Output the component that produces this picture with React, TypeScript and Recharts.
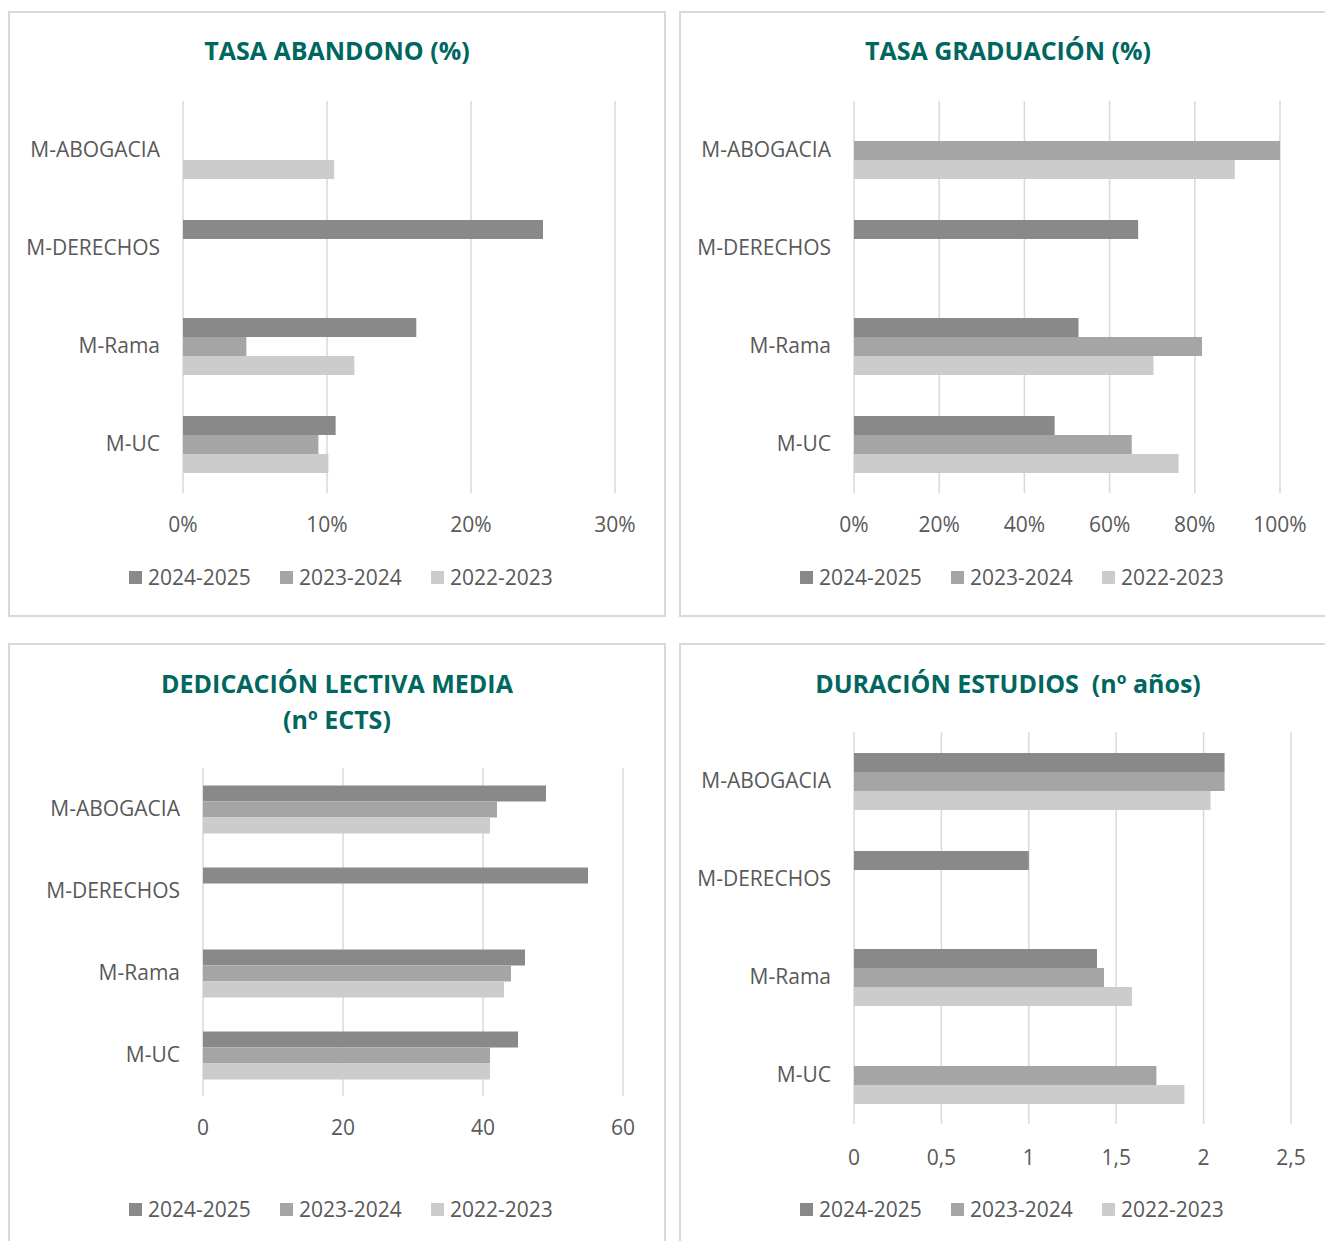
import React from 'react';
import { BarChart, Bar, XAxis, YAxis, CartesianGrid } from 'recharts';

const CATEGORIES = ['M-ABOGACIA', 'M-DERECHOS', 'M-Rama', 'M-UC'];
const SERIES = ['2024-2025', '2023-2024', '2022-2023'];
const COLORS = ['#898989', '#a5a5a5', '#cccccc'];

const ABANDONO_2024_25 = [null, 25.0, 16.2, 10.6];
const ABANDONO_2023_24 = [null, null, 4.4, 9.4];
const ABANDONO_2022_23 = [10.5, null, 11.9, 10.1];
const ABANDONO_TICKS = [0, 10, 20, 30];

const GRADUACION_2024_25 = [null, 66.7, 52.7, 47.1];
const GRADUACION_2023_24 = [100, null, 81.7, 65.2];
const GRADUACION_2022_23 = [89.4, null, 70.3, 76.2];
const GRADUACION_TICKS = [0, 20, 40, 60, 80, 100];

const DEDICACION_2024_25 = [49, 55, 46, 45];
const DEDICACION_2023_24 = [42, null, 44, 41];
const DEDICACION_2022_23 = [41, null, 43, 41];
const DEDICACION_TICKS = [0, 20, 40, 60];

const DURACION_2024_25 = [2.12, 1.0, 1.39, null];
const DURACION_2023_24 = [2.12, null, 1.43, 1.73];
const DURACION_2022_23 = [2.04, null, 1.59, 1.89];
const DURACION_TICKS = [0, 0.5, 1, 1.5, 2, 2.5];

const FONT = '"Open Sans", "Noto Sans", sans-serif';
const TEXT = '#595959';
const TITLE = '#00675f';
const GRID = '#d9d9d9';

type Num = number | null;

function build(a: Num[], b: Num[], c: Num[]) {
  return CATEGORIES.map((cat, i) => ({
    category: cat,
    [SERIES[0]]: a[i],
    [SERIES[1]]: b[i],
    [SERIES[2]]: c[i],
  }));
}

const pct = (v: number) => `${v}%`;
const plain = (v: number) => `${v}`;
const comma = (v: number) => `${v}`.replace('.', ',');

interface PanelProps {
  left: number;
  top: number;
  titleLines: string[];
  titleTop: number;
  data: any[];
  ticks: number[];
  formatter: (v: number) => string;
  plotLeft: number;
  plotRight: number;
  plotTop: number;
  plotBottom: number;
  tickMargin: number;
}

const PANEL_W = 658;
const PANEL_H = 606;
const CHART_H = 560;
const XAXIS_H = 40;

function Panel(p: PanelProps) {
  const margin = {
    top: p.plotTop,
    right: PANEL_W - p.plotRight,
    left: 0,
    bottom: CHART_H - p.plotBottom - XAXIS_H,
  };
  return (
    <div style={{ position: 'absolute', left: p.left, top: p.top, width: PANEL_W, height: PANEL_H + 40 }}>
      <div
        style={{
          position: 'absolute',
          left: 0,
          top: 0,
          width: PANEL_W,
          height: p.top > 300 ? 700 : PANEL_H,
          border: `2px solid ${GRID}`,
          boxSizing: 'border-box',
        }}
      />
      {p.titleLines.map((t, i) => (
        <div
          key={i}
          style={{
            position: 'absolute',
            left: 0,
            width: PANEL_W,
            top: p.titleTop + i * 36 - 18,
            height: 36,
            lineHeight: '36px',
            textAlign: 'center',
            fontFamily: FONT,
            fontWeight: 700,
            fontSize: 25,
            color: TITLE,
            whiteSpace: 'pre',
          }}
        >
          {t}
        </div>
      ))}
      <div style={{ position: 'absolute', left: 0, top: 0 }}>
        <BarChart
          width={PANEL_W}
          height={CHART_H}
          data={p.data}
          layout="vertical"
          margin={margin}
          barCategoryGap="21.4%"
          barGap={0}
        >
          <CartesianGrid horizontal={false} stroke={GRID} strokeWidth={1.5} />
          <XAxis
            type="number"
            domain={[p.ticks[0], p.ticks[p.ticks.length - 1]]}
            ticks={p.ticks}
            tickFormatter={p.formatter}
            axisLine={false}
            tickLine={false}
            tickSize={0}
            tickMargin={p.tickMargin}
            height={XAXIS_H}
            interval={0}
            tick={{ fill: TEXT, fontSize: 21, fontFamily: FONT }}
          />
          <YAxis
            type="category"
            dataKey="category"
            width={p.plotLeft}
            axisLine={false}
            tickLine={false}
            tickSize={0}
            tickMargin={23}
            interval={0}
            tick={{ fill: TEXT, fontSize: 21, fontFamily: FONT }}
          />
          {SERIES.map((s, i) => (
            <Bar key={s} dataKey={s} fill={COLORS[i]} isAnimationActive={false} />
          ))}
        </BarChart>
      </div>
      {SERIES.map((s, i) => (
        <div
          key={s}
          style={{
            position: 'absolute',
            left: 121 + i * 151,
            top: 566 - 15,
            height: 30,
            display: 'flex',
            alignItems: 'center',
            fontFamily: FONT,
            fontSize: 21,
            color: TEXT,
            whiteSpace: 'nowrap',
          }}
        >
          <span style={{ display: 'inline-block', width: 13, height: 13, background: COLORS[i], marginRight: 6 }} />
          <span>{s}</span>
        </div>
      ))}
    </div>
  );
}

export default function App() {
  return (
    <div
      style={{
        position: 'absolute',
        left: 0,
        top: 0,
        width: 1325,
        height: 1241,
        overflow: 'hidden',
        background: '#ffffff',
      }}
    >
      <Panel
        left={8}
        top={11}
        titleLines={['TASA ABANDONO (%)']}
        titleTop={39}
        data={build(ABANDONO_2024_25, ABANDONO_2023_24, ABANDONO_2022_23)}
        ticks={ABANDONO_TICKS}
        formatter={pct}
        plotLeft={175}
        plotRight={607}
        plotTop={90}
        plotBottom={482}
        tickMargin={24}
      />
      <Panel
        left={679}
        top={11}
        titleLines={['TASA GRADUACIÓN (%)']}
        titleTop={39}
        data={build(GRADUACION_2024_25, GRADUACION_2023_24, GRADUACION_2022_23)}
        ticks={GRADUACION_TICKS}
        formatter={pct}
        plotLeft={175}
        plotRight={601}
        plotTop={90}
        plotBottom={482}
        tickMargin={24}
      />
      <Panel
        left={8}
        top={643}
        titleLines={['DEDICACIÓN LECTIVA MEDIA', '(nº ECTS)']}
        titleTop={40}
        data={build(DEDICACION_2024_25, DEDICACION_2023_24, DEDICACION_2022_23)}
        ticks={DEDICACION_TICKS}
        formatter={plain}
        plotLeft={195}
        plotRight={615}
        plotTop={125}
        plotBottom={453}
        tickMargin={24}
      />
      <Panel
        left={679}
        top={643}
        titleLines={['DURACIÓN ESTUDIOS  (nº años)']}
        titleTop={40}
        data={build(DURACION_2024_25, DURACION_2023_24, DURACION_2022_23)}
        ticks={DURACION_TICKS}
        formatter={comma}
        plotLeft={175}
        plotRight={612}
        plotTop={89}
        plotBottom={481}
        tickMargin={26}
      />
    </div>
  );
}
